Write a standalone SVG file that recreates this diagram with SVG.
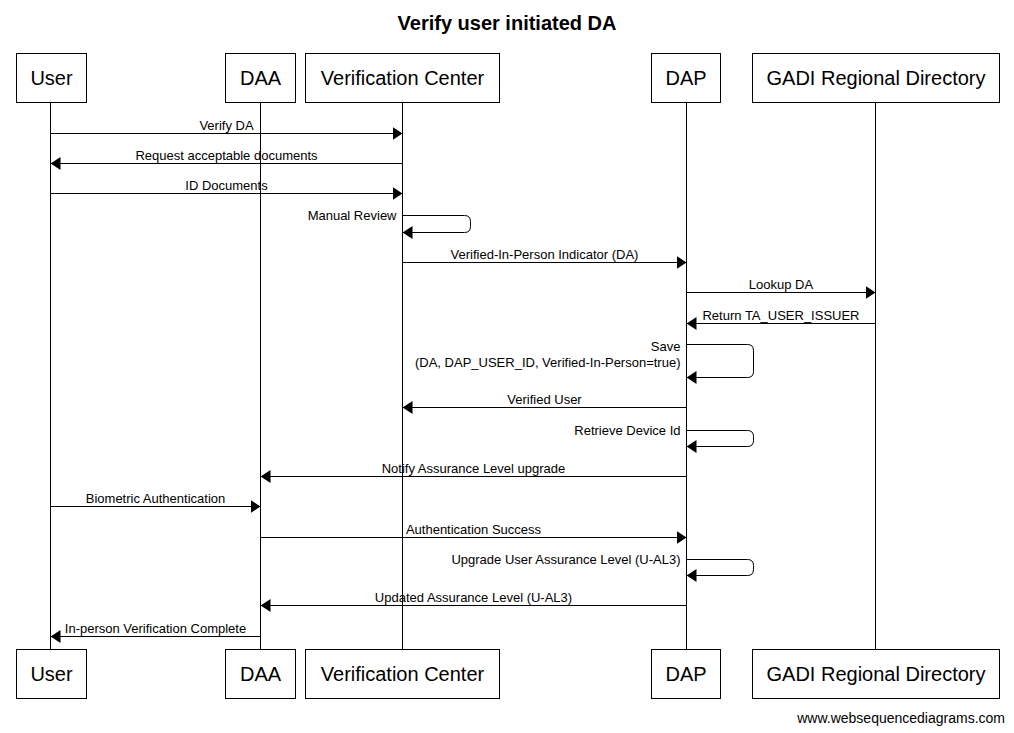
<svg xmlns="http://www.w3.org/2000/svg" width="1014" height="733" viewBox="0 0 1014 733">
<style>
text{font-family:"Liberation Sans",Arial,sans-serif;fill:#000}
.title{font-size:20px;font-weight:bold;text-anchor:middle}
.pbox{fill:#fff;stroke:#000;stroke-width:1}
.pname{font-size:20px;text-anchor:middle}
.life{stroke:#000;stroke-width:1;fill:none}
.msg{stroke:#000;stroke-width:1;fill:none}
.lbl{font-size:13px;text-anchor:middle}
.slbl{font-size:13px;text-anchor:end}
.foot{font-size:14px;text-anchor:end}
</style>
<defs>
<marker id="ah" viewBox="0 0 10 13" refX="10" refY="6.5" markerWidth="10" markerHeight="13" markerUnits="userSpaceOnUse" orient="auto">
<path d="M0,0 L10,6.5 L0,13 Z" fill="#000"/>
</marker>
</defs>
<rect width="1014" height="733" fill="#fff"/>
<text class="title" x="507" y="29.5">Verify user initiated DA</text>

<g id="lifelines">
<line class="life" x1="50.5" y1="102.5" x2="50.5" y2="649.5"/>
<line class="life" x1="260.5" y1="102.5" x2="260.5" y2="649.5"/>
<line class="life" x1="402.5" y1="102.5" x2="402.5" y2="649.5"/>
<line class="life" x1="686.5" y1="102.5" x2="686.5" y2="649.5"/>
<line class="life" x1="875.5" y1="102.5" x2="875.5" y2="649.5"/>
</g>

<g id="user">
<rect class="pbox" x="16.5" y="53.5" width="70" height="49"/>
<text class="pname" x="51.5" y="85">User</text>
<rect class="pbox" x="16.5" y="649.5" width="70" height="49"/>
<text class="pname" x="51.5" y="681">User</text>
</g>
<g id="daa">
<rect class="pbox" x="225.5" y="53.5" width="70" height="49"/>
<text class="pname" x="260.5" y="85">DAA</text>
<rect class="pbox" x="225.5" y="649.5" width="70" height="49"/>
<text class="pname" x="260.5" y="681">DAA</text>
</g>
<g id="verification-center">
<rect class="pbox" x="305.5" y="53.5" width="194" height="49"/>
<text class="pname" x="402.5" y="85">Verification Center</text>
<rect class="pbox" x="305.5" y="649.5" width="194" height="49"/>
<text class="pname" x="402.5" y="681">Verification Center</text>
</g>
<g id="dap">
<rect class="pbox" x="651.5" y="53.5" width="69" height="49"/>
<text class="pname" x="686" y="85">DAP</text>
<rect class="pbox" x="651.5" y="649.5" width="69" height="49"/>
<text class="pname" x="686" y="681">DAP</text>
</g>
<g id="gadi">
<rect class="pbox" x="752.5" y="53.5" width="247" height="49"/>
<text class="pname" x="876" y="85">GADI Regional Directory</text>
<rect class="pbox" x="752.5" y="649.5" width="247" height="49"/>
<text class="pname" x="876" y="681">GADI Regional Directory</text>
</g>

<g id="connectors">
<line class="msg" x1="50.5" y1="133.5" x2="402.5" y2="133.5" marker-end="url(#ah)"/>
<text class="lbl" x="226.5" y="129.5">Verify DA</text>

<line class="msg" x1="402.5" y1="163.5" x2="50.5" y2="163.5" marker-end="url(#ah)"/>
<text class="lbl" x="226.5" y="159.5">Request acceptable documents</text>

<line class="msg" x1="50.5" y1="193.5" x2="402.5" y2="193.5" marker-end="url(#ah)"/>
<text class="lbl" x="226.5" y="189.5">ID Documents</text>

<path class="msg" d="M402.5,215.5 H464.5 Q470.5,215.5 470.5,221.5 V226.5 Q470.5,232.5 464.5,232.5 H402.5" marker-end="url(#ah)"/>
<text class="slbl" x="396.5" y="220">Manual Review</text>

<line class="msg" x1="402.5" y1="262.5" x2="686.5" y2="262.5" marker-end="url(#ah)"/>
<text class="lbl" x="544.5" y="259">Verified-In-Person Indicator (DA)</text>

<line class="msg" x1="686.5" y1="292.5" x2="875.5" y2="292.5" marker-end="url(#ah)"/>
<text class="lbl" x="781" y="289">Lookup DA</text>

<line class="msg" x1="875.5" y1="323.5" x2="686.5" y2="323.5" marker-end="url(#ah)"/>
<text class="lbl" x="781" y="319.5">Return TA_USER_ISSUER</text>

<path class="msg" d="M686.5,344.5 H747.5 Q753.5,344.5 753.5,350.5 V371.5 Q753.5,377.5 747.5,377.5 H686.5" marker-end="url(#ah)"/>
<text class="slbl" x="680.5" y="350.5">Save</text>
<text class="slbl" x="680.5" y="366.5">(DA, DAP_USER_ID, Verified-In-Person=true)</text>

<line class="msg" x1="686.5" y1="407.5" x2="402.5" y2="407.5" marker-end="url(#ah)"/>
<text class="lbl" x="544.5" y="403.5">Verified User</text>

<path class="msg" d="M686.5,430.5 H747.5 Q753.5,430.5 753.5,436.5 V440.5 Q753.5,446.5 747.5,446.5 H686.5" marker-end="url(#ah)"/>
<text class="slbl" x="680.5" y="434.5">Retrieve Device Id</text>

<line class="msg" x1="686.5" y1="476.5" x2="260.5" y2="476.5" marker-end="url(#ah)"/>
<text class="lbl" x="473.5" y="472.5">Notify Assurance Level upgrade</text>

<line class="msg" x1="50.5" y1="506.5" x2="260.5" y2="506.5" marker-end="url(#ah)"/>
<text class="lbl" x="155.5" y="502.5">Biometric Authentication</text>

<line class="msg" x1="260.5" y1="537.5" x2="686.5" y2="537.5" marker-end="url(#ah)"/>
<text class="lbl" x="473.5" y="533.5">Authentication Success</text>

<path class="msg" d="M686.5,559.5 H747.5 Q753.5,559.5 753.5,565.5 V569.5 Q753.5,575.5 747.5,575.5 H686.5" marker-end="url(#ah)"/>
<text class="slbl" x="680.5" y="564">Upgrade User Assurance Level (U-AL3)</text>

<line class="msg" x1="686.5" y1="605.5" x2="260.5" y2="605.5" marker-end="url(#ah)"/>
<text class="lbl" x="473.5" y="601.5">Updated Assurance Level (U-AL3)</text>

<line class="msg" x1="260.5" y1="636.5" x2="50.5" y2="636.5" marker-end="url(#ah)"/>
<text class="lbl" x="155.5" y="632.5">In-person Verification Complete</text>
</g>

<text class="foot" x="1005" y="723">www.websequencediagrams.com</text>
</svg>
